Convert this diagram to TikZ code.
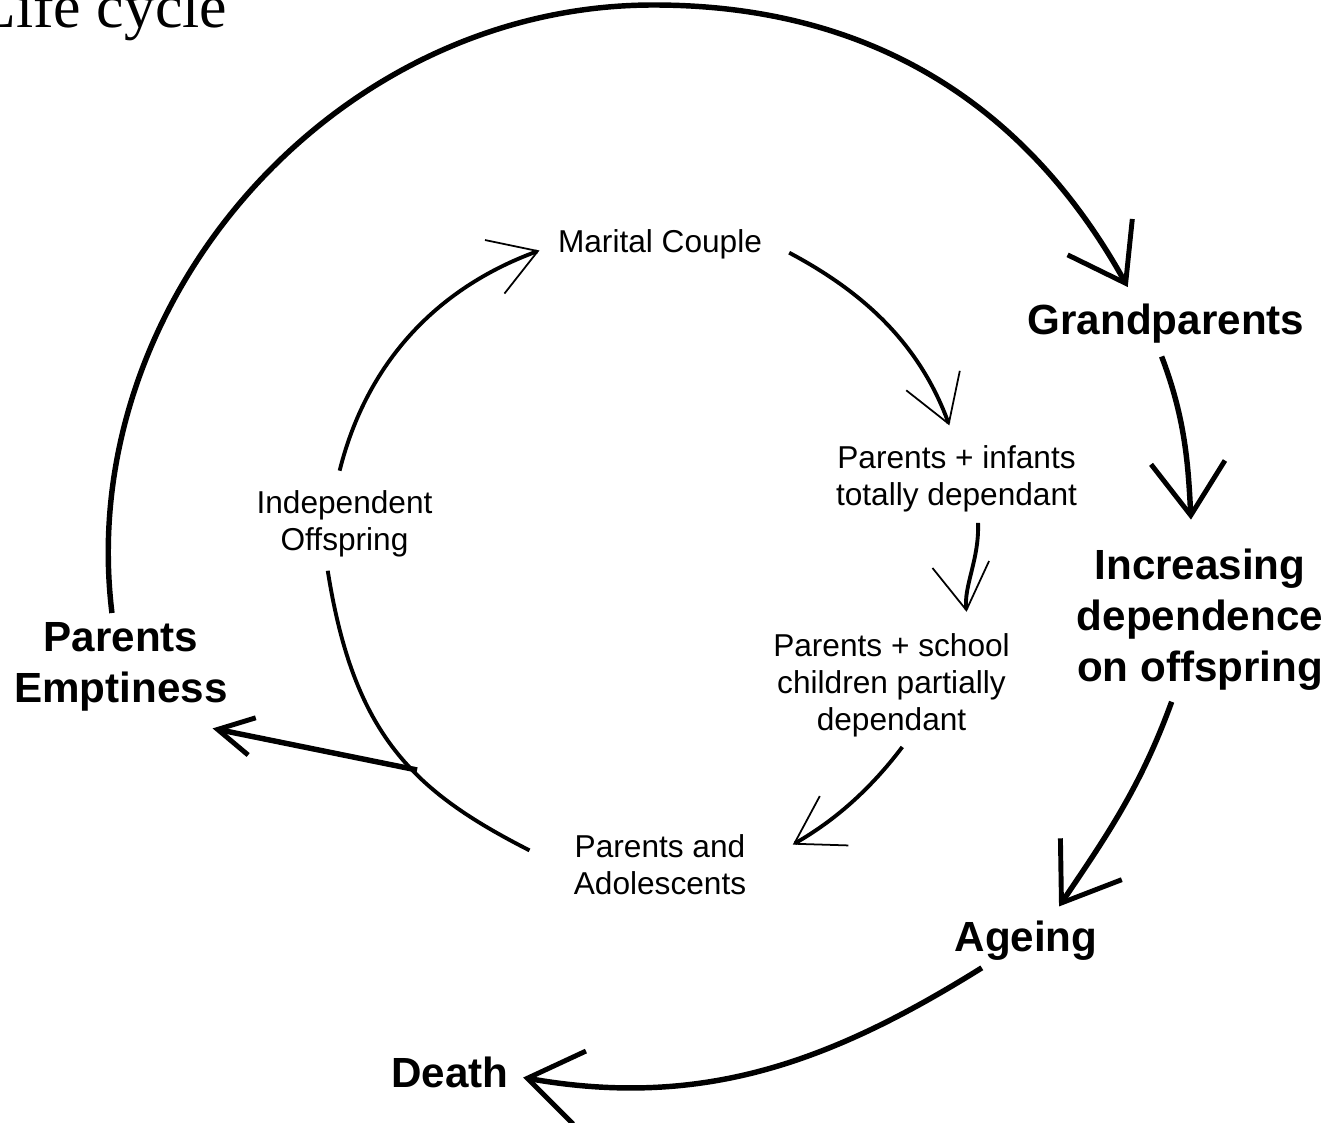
\documentclass[tikz,border=0pt]{standalone}
\usepackage{fontspec}
\setmainfont{Liberation Sans}
\newfontfamily\titlefont{Liberation Serif}
\usepackage{tikz}
\usetikzlibrary{arrows.meta}

\tikzset{
    big/.style={font=\fontsize{12}{14.5}\selectfont\bfseries, align=center, inner sep=0pt},
    small/.style={font=\fontsize{9}{10.5}\selectfont, align=center, inner sep=0pt},
    outer/.style={line width=1.55pt, -{Straight Barb[length=5.3mm, width=7.4mm, line width=1.4pt]}},
    inner/.style={line width=1.1pt, -{Straight Barb[length=4.6mm, width=5.7mm, line width=0.5pt]}},
    branch/.style={line width=1.55pt, -{Straight Barb[length=3.5mm, width=3.8mm, line width=1.4pt]}}
}

\begin{document}
\begin{tikzpicture}
    \useasboundingbox (0,0) rectangle (13.32,11.22);
    \node(title)[anchor=base east, inner sep=0pt, font=\titlefont\fontsize{17.6}{20}\selectfont] at (2.28,10.94) {Life cycle};
    \node(gp)[big] at (11.66,7.98) {Grandparents};
    \node(inc)[big] at (12.00,5.02) {Increasing\\dependence\\on offspring};
    \node(age)[big] at (10.26,1.81) {Ageing};
    \node(death)[big] at (4.50,0.50) {Death};
    \node(pe)[big] at (1.21,4.55) {Parents\\Emptiness};
    \node(mc)[small] at (6.60,8.78) {Marital Couple};
    \node(pi)[small] at (9.565,6.43) {Parents + infants\\totally dependant};
    \node(ps)[small] at (8.915,4.37) {Parents + school\\children partially\\dependant};
    \node(pa)[small] at (6.60,2.57) {Parents and\\Adolescents};
    \node(io)[small] at (3.445,5.98) {Independent\\Offspring};
    \coordinate(top) at (6.535,11.17);
    \draw[outer, shorten <=0.09cm, shorten >=0.19cm] (pe.100) to[out=97, in=180] (top) to[out=0, in=119] (gp.145);
    \draw[outer, shorten <=0.13cm, shorten >=0.29cm] (gp.-114) to[out=-69, in=93] (inc.96);
    \draw[outer, shorten <=0.11cm, shorten >=0.17cm] (inc.-109) to[out=-110, in=56] (age.41);
    \draw[outer, shorten <=0.12cm, shorten >=0.14cm] (age.-149) to[out=-148, in=-10] (death.-3);
    \draw[inner, shorten <=0.30cm, shorten >=0.21cm] (mc.3) to[out=-28, in=110] (pi.north);
    \draw[inner, shorten <=0.10cm, shorten >=0.21cm] (pi.-58) to[out=-88, in=97] (ps.34);
    \draw[inner, shorten <=0.12cm, shorten >=0.53cm] (ps.-71) to[out=-127, in=30] (pa.-4);
    \draw[inner, -, shorten <=0.49cm, shorten >=0.13cm] (pa.185) to[out=153, in=-81, looseness=1.15] coordinate[pos=0.43] (br) (io.-119);
    \draw[inner, shorten <=0.20cm, shorten >=0.19cm] (io.106) to[out=76, in=-160] (mc.west);
    \draw[branch, shorten >=0.82cm] (br) -- (pe.-76);
\end{tikzpicture}
\end{document}
